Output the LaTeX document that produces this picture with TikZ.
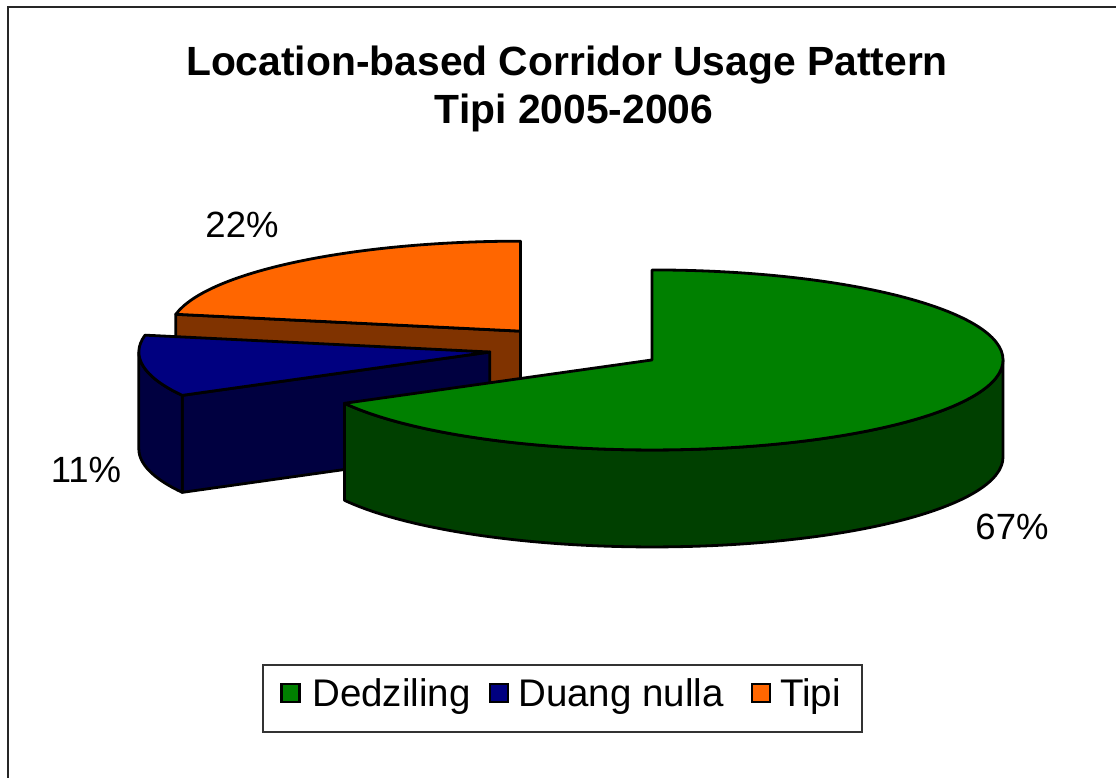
\documentclass[tikz,border=0pt]{standalone}
\usepackage{fontspec}
\setmainfont{Liberation Sans}
\usetikzlibrary{calc}
\definecolor{dzTop}{RGB}{0,128,0}
\definecolor{dzSide}{RGB}{0,64,0}
\definecolor{duangTop}{RGB}{0,0,128}
\definecolor{duangSide}{RGB}{0,0,64}
\definecolor{tipiTop}{RGB}{255,102,0}
\definecolor{tipiSide}{RGB}{128,51,0}
\begin{document}
\begin{tikzpicture}[x=1pt,y=1pt,
  slice/.style={draw=black, line width=2.8pt, line join=round},
  ttl/.style={font=\fontsize{40.8}{48}\selectfont\bfseries, anchor=base, inner sep=0pt},
  pct/.style={font=\fontsize{36.5}{40}\selectfont, inner sep=0pt},
  legtext/.style={font=\fontsize{38.5}{42}\selectfont, anchor=base west, inner sep=0pt},
  legkey/.style={draw=black, line width=2.2pt, minimum size=18pt, inner sep=0pt}]
\useasboundingbox (0,0) rectangle (1116,778);
% chart area frame
\draw[black!85, line width=2pt] (8,-5) -- (8,771) -- (1125,771);

% title
\node[ttl] (t1) at (567,702) {Location-based Corridor Usage Pattern};
\node[ttl] (t2) at (574,654) {Tipi 2005-2006};

% pie geometry: radii 351 x 90, thickness 97, slices pulled out from the centre
\coordinate (C) at (576.5,429.5);
\coordinate (Gc) at ($(C)+(-30.6:87.75 and 22.5)$);
\coordinate (Bc) at ($(C)+(-171:87.75 and 22.5)$);
\coordinate (Oc) at ($(C)+(129.6:87.75 and 22.5)$);

% Tipi slice (back)
\draw[slice, fill=tipiSide] (Oc) -- ++(169.2:351 and 90) -- ++(0,-97) -- ($(Oc)+(0,-97)$) -- cycle;
\draw[slice, fill=tipiTop] (Oc) -- ++(169.2:351 and 90) arc (169.2:90:351 and 90) -- cycle;

% Duang nulla slice
\draw[slice, fill=duangSide] (Bc) -- ++(208.8:351 and 90) -- ++(0,-97) -- ($(Bc)+(0,-97)$) -- cycle;
\draw[slice, fill=duangSide] ($(Bc)+(180:351 and 90)$) arc (180:208.8:351 and 90) -- ++(0,-97) arc (208.8:180:351 and 90) -- cycle;
\draw[slice, fill=duangTop] (Bc) -- ++(208.8:351 and 90) arc (208.8:169.2:351 and 90) -- cycle;

% Dedziling slice (front)
\draw[slice, fill=dzSide] ($(Gc)+(-151.2:351 and 90)$) arc (-151.2:0:351 and 90) -- ++(0,-97) arc (0:-151.2:351 and 90) -- cycle;
\draw[slice, fill=dzTop] (Gc) -- ++(90:351 and 90) arc (90:-151.2:351 and 90) -- cycle;

% percentage labels
\node[pct] (p22) at (242,553) {22\%};
\node[pct] (p11) at (86,308) {11\%};
\node[pct] (p67) at (1012,251) {67\%};

% legend
\node[draw=black!80, line width=1.2pt, minimum width=599pt, minimum height=67pt, inner sep=0pt] (legend) at (562.5,79.5) {};
\node[legkey, fill=dzTop] (k1) at (290.5,85) {};
\node[legtext] (l1) at (312,71) {Dedziling};
\node[legkey, fill=duangTop] (k2) at (499,85) {};
\node[legtext] (l2) at (518,71) {Duang nulla};
\node[legkey, fill=tipiTop] (k3) at (761,85) {};
\node[legtext] (l3) at (780,71) {Tipi};
\end{tikzpicture}
\end{document}
